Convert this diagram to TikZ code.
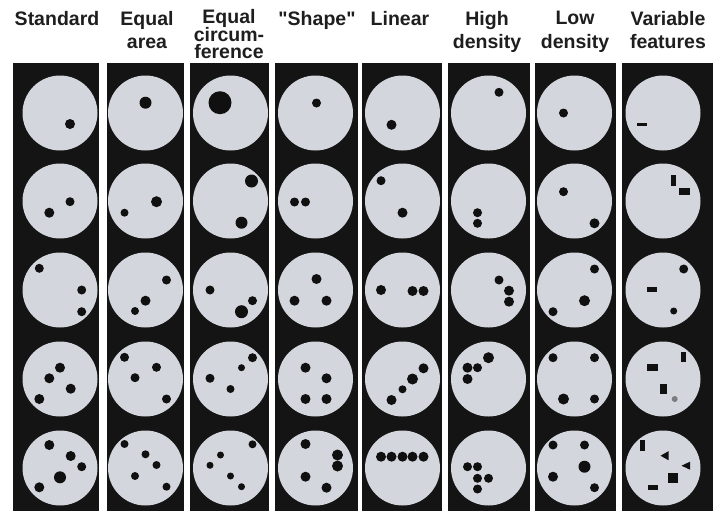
\documentclass[tikz,border=0pt]{standalone}
\usepackage{fontspec}
\setmainfont{Liberation Sans}

\definecolor{stripblack}{HTML}{141414}
\definecolor{discgrey}{HTML}{D3D6DC}
\definecolor{spotblack}{HTML}{101010}
\definecolor{spotgrey}{HTML}{7A7C80}
\definecolor{headtext}{HTML}{1E1E1E}

\begin{document}
\begin{tikzpicture}[
        x=1pt, y=-1pt, % one unit = one pixel of the panel, y downwards
        % styles
        strip/.style={fill=stripblack},
        disc/.style={circle, fill=discgrey, minimum size=75pt, inner sep=0pt},
        spot/.style={fill=spotblack},
        header/.style={anchor=north, inner sep=0pt, align=center, text=headtext, font=\fontsize{19.5}{23.5}\selectfont\bfseries} ]

    \useasboundingbox (0,0) rectangle (713,512);
    \fill[white] (0,0) rectangle (713,512);

    % --- HEADERS ---
    \node (hStd)   [header] at (57,11)  {Standard};
    \node (hArea)  [header] at (147,11) {Equal\\area};
    \node (hCirc)  [header] at (229,9) {Equal\\[-5.5pt]circum-\\[-6.5pt]ference};
    \node (hShape) [header] at (317,11) {\textquotedbl Shape\textquotedbl};
    \node (hLin)   [header] at (400,11) {Linear};
    \node (hHigh)  [header] at (487,11) {High\\density};
    \node (hLow)   [header] at (575,11) {Low\\density};
    \node (hVar)   [header] at (668,11) {Variable\\features};

    % --- BLACK STRIPS ---
    \foreach \a/\b in {13/99, 107/184, 190/269, 275/358, 362/442, 448/530, 535/616, 622/713}
        \fill[strip] (\a,63) rectangle (\b,511);

    % --- DISCS (5 per column) ---
    \foreach \n/\x in {std/60, area/145.5, circ/230.5, shape/315.5, lin/402.5, hi/488.5, lo/574.5, var/663}
        \foreach \r/\y in {1/113, 2/201, 3/290, 4/379, 5/468}
            \node (\n\r) [disc] at (\x,\y) {};

    % --- Standard ---
    \foreach \dx/\dy/\s in {10/11/5}
        \fill[spot] ([shift={(\dx,\dy)}]std1.center) circle (\s pt);
    \foreach \dx/\dy/\s in {-10.7/11.7/5, 10/0.7/4.5}
        \fill[spot] ([shift={(\dx,\dy)}]std2.center) circle (\s pt);
    \foreach \dx/\dy/\s in {-20.7/-21.7/4.5, 21.7/0/4.5, 21.7/21.7/4.5}
        \fill[spot] ([shift={(\dx,\dy)}]std3.center) circle (\s pt);
    \foreach \dx/\dy/\s in {0/-11.3/5, -10.7/-0.7/5, 10.7/9.7/5, -20.7/20/5}
        \fill[spot] ([shift={(\dx,\dy)}]std4.center) circle (\s pt);
    \foreach \dx/\dy/\s in {-10.7/-23/5, 10.7/-12/5, 21.7/-1.3/4.5, 0/9.3/6, -20.7/19.3/5}
        \fill[spot] ([shift={(\dx,\dy)}]std5.center) circle (\s pt);

    % --- Equal area ---
    \foreach \dx/\dy/\s in {0/-10.3/6}
        \fill[spot] ([shift={(\dx,\dy)}]area1.center) circle (\s pt);
    \foreach \dx/\dy/\s in {11/0.7/5.5, -21/11.7/4}
        \fill[spot] ([shift={(\dx,\dy)}]area2.center) circle (\s pt);
    \foreach \dx/\dy/\s in {21/-10/4.5, 0/10.7/5, -10.5/21/4}
        \fill[spot] ([shift={(\dx,\dy)}]area3.center) circle (\s pt);
    \foreach \dx/\dy/\s in {-21/-21.7/4.5, 11/-11.7/4.5, -10.5/-1.3/4.5, 21/20/4.5}
        \fill[spot] ([shift={(\dx,\dy)}]area4.center) circle (\s pt);
    \foreach \dx/\dy/\s in {-21/-24/4, 0/-13.7/4, 11/-3/4, -10.5/8/4, 21/18.7/4}
        \fill[spot] ([shift={(\dx,\dy)}]area5.center) circle (\s pt);

    % --- Equal circumference ---
    \foreach \dx/\dy/\s in {-10.5/-10.3/11.5}
        \fill[spot] ([shift={(\dx,\dy)}]circ1.center) circle (\s pt);
    \foreach \dx/\dy/\s in {21/-20/6.5, 11/21.7/6}
        \fill[spot] ([shift={(\dx,\dy)}]circ2.center) circle (\s pt);
    \foreach \dx/\dy/\s in {-20.5/0/4.5, 22/10.7/4.5, 11/21.7/6.5}
        \fill[spot] ([shift={(\dx,\dy)}]circ3.center) circle (\s pt);
    \foreach \dx/\dy/\s in {22/-21.3/4.5, 11/-11.3/3.5, -20.5/-0.7/4.5, 0/10/4}
        \fill[spot] ([shift={(\dx,\dy)}]circ4.center) circle (\s pt);
    \foreach \dx/\dy/\s in {22/-23.7/4, -10/-13/3.5, -20.5/-2.7/3.5, 0/8/3.5, 11/18.7/3.5}
        \fill[spot] ([shift={(\dx,\dy)}]circ5.center) circle (\s pt);

    % --- "Shape" ---
    \foreach \dx/\dy/\s in {1/-10/4.5}
        \fill[spot] ([shift={(\dx,\dy)}]shape1.center) circle (\s pt);
    \foreach \dx/\dy/\s in {-21/1/4.5, -10/1/4.5}
        \fill[spot] ([shift={(\dx,\dy)}]shape2.center) circle (\s pt);
    \foreach \dx/\dy/\s in {1/-11/5, -21/10.7/5, 11/10.7/5}
        \fill[spot] ([shift={(\dx,\dy)}]shape3.center) circle (\s pt);
    \foreach \dx/\dy/\s in {-10/-11.3/5, 11/-0.7/5, -10/20/5, 11/20/5}
        \fill[spot] ([shift={(\dx,\dy)}]shape4.center) circle (\s pt);
    \foreach \dx/\dy/\s in {-10/-24/5, 22/-13/5.5, 22/-2/5.5, -10/8.7/5, 11/19.7/5}
        \fill[spot] ([shift={(\dx,\dy)}]shape5.center) circle (\s pt);

    % --- Linear ---
    \foreach \dx/\dy/\s in {-11/11.8/5}
        \fill[spot] ([shift={(\dx,\dy)}]lin1.center) circle (\s pt);
    \foreach \dx/\dy/\s in {-21.5/-20.3/4.5, 0/11.7/5}
        \fill[spot] ([shift={(\dx,\dy)}]lin2.center) circle (\s pt);
    \foreach \dx/\dy/\s in {-21.5/0/5, 10/1/5, 21/1/5}
        \fill[spot] ([shift={(\dx,\dy)}]lin3.center) circle (\s pt);
    \foreach \dx/\dy/\s in {21/-10.7/5, 10/0/5.5, 0/10.3/4, -11/21/5}
        \fill[spot] ([shift={(\dx,\dy)}]lin4.center) circle (\s pt);
    \foreach \dx/\dy/\s in {-21.5/-11.3/5, -11/-11.3/5, 0/-11.3/5, 10/-11.3/5, 21/-11.3/5}
        \fill[spot] ([shift={(\dx,\dy)}]lin5.center) circle (\s pt);

    % --- High density ---
    \foreach \dx/\dy/\s in {10.5/-20.7/4.5}
        \fill[spot] ([shift={(\dx,\dy)}]hi1.center) circle (\s pt);
    \foreach \dx/\dy/\s in {-11/11.7/4.5, -11/22.3/4.5}
        \fill[spot] ([shift={(\dx,\dy)}]hi2.center) circle (\s pt);
    \foreach \dx/\dy/\s in {10.5/-10/4.5, 20.5/0.7/5, 20.5/11.7/5}
        \fill[spot] ([shift={(\dx,\dy)}]hi3.center) circle (\s pt);
    \foreach \dx/\dy/\s in {0/-21.3/5.5, -21/-11.3/5, -11/-11.3/4.5, -21/0/5}
        \fill[spot] ([shift={(\dx,\dy)}]hi4.center) circle (\s pt);
    \foreach \dx/\dy/\s in {-21/-1.3/4.5, -11/-1.3/4.5, -11/10.3/4.5, 0/10.3/4.5, -11/21/4.5}
        \fill[spot] ([shift={(\dx,\dy)}]hi5.center) circle (\s pt);

    % --- Low density ---
    \foreach \dx/\dy/\s in {-11/0/4.5}
        \fill[spot] ([shift={(\dx,\dy)}]lo1.center) circle (\s pt);
    \foreach \dx/\dy/\s in {-11/-9.3/4.5, 20/22.3/5}
        \fill[spot] ([shift={(\dx,\dy)}]lo2.center) circle (\s pt);
    \foreach \dx/\dy/\s in {20/-21/4.5, 10/10.7/5.5, -21.5/21.7/4.5}
        \fill[spot] ([shift={(\dx,\dy)}]lo3.center) circle (\s pt);
    \foreach \dx/\dy/\s in {-21.5/-21.3/4.5, 20/-21.3/4.5, -11/20/5.5, 20/20/4.5}
        \fill[spot] ([shift={(\dx,\dy)}]lo4.center) circle (\s pt);
    \foreach \dx/\dy/\s in {-21.5/-23/4.5, 10/-23/4.5, 10/-1.3/6, -21.5/8.7/5, 20/19.7/4.5}
        \fill[spot] ([shift={(\dx,\dy)}]lo5.center) circle (\s pt);

    % --- Variable features (bars, squares, triangles) ---
    \begin{scope}[shift={(var1)}]
        \fill[spot] (-25.7,9.8) rectangle ++(10,3);
    \end{scope}
    \begin{scope}[shift={(var2)}]
        \fill[spot] (8.2,-26.5) rectangle ++(5,11);
        \fill[spot] (16.2,-12.8) rectangle ++(11,7);
    \end{scope}
    \begin{scope}[shift={(var3)}]
        \fill[spot] (20.7,-21) circle (4.5pt);
        \fill[spot] (-15.7,-3.2) rectangle ++(10,5);
        \fill[spot] (10.7,21) circle (3.5pt);
    \end{scope}
    \begin{scope}[shift={(var4)}]
        \fill[spot] (18.2,-26.7) rectangle ++(5,10);
        \fill[spot] (-16.2,-14.8) rectangle ++(11,7);
        \fill[spot] (-3.5,5) rectangle ++(7,10);
        \fill[spotgrey] (11.7,20) circle (3pt);
    \end{scope}
    \begin{scope}[shift={(var5)}]
        \fill[spot] (-23.5,-28.5) rectangle ++(5,11);
        \fill[spot] (-2.5,-12.3) -- (5.5,-16.8) -- (5.5,-7.8) -- cycle;
        \fill[spot] (18.5,-2.3) -- (27,-6.3) -- (27,1.7) -- cycle;
        \fill[spot] (5,4.7) rectangle ++(10,10);
        \fill[spot] (-15,16.8) rectangle ++(10,5);
    \end{scope}

\end{tikzpicture}
\end{document}
